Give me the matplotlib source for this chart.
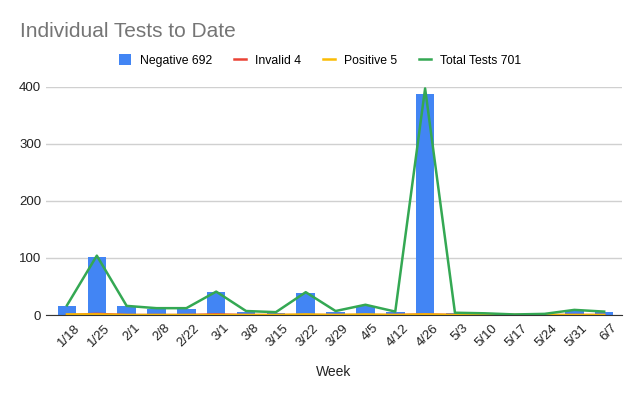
import matplotlib.pyplot as plt
import matplotlib.transforms as mtransforms
import numpy as np

plt.rcParams['font.family'] = ['Liberation Sans', 'DejaVu Sans']

# Data
weeks = ['1/18', '1/25', '2/1', '2/8', '2/22', '3/1', '3/8', '3/15', '3/22', '3/29',
         '4/5', '4/12', '4/26', '5/3', '5/10', '5/17', '5/24', '5/31', '6/7']
negative = [16, 102, 16, 11, 11, 40, 6, 4, 38, 6, 16, 6, 388, 3, 2, 1, 1, 8, 6]
invalid = [0, 2, 0, 0, 0, 1, 0, 0, 0, 0, 0, 0, 1, 0, 0, 0, 0, 0, 0]
positive = [1, 1, 0, 0, 0, 0, 0, 0, 1, 0, 1, 0, 1, 0, 0, 0, 0, 0, 0]
total = [17, 104, 16, 12, 12, 41, 7, 5, 40, 7, 18, 6, 397, 4, 3, 1, 2, 9, 6]

blue = '#4285F4'
red = '#EA4335'
yellow = '#FBBC04'
green = '#34A853'

fig = plt.figure(figsize=(6.4, 3.96), dpi=100)
ax = fig.add_axes([0.072, 0.2045, 0.9, 0.5765])

x = np.arange(len(weeks))
ax.bar(x, negative, width=0.62, color=blue, label='Negative 692', zorder=2)
ax.plot(x, invalid, color=red, lw=1.8, label='Invalid 4', zorder=3)
ax.plot(x, positive, color=yellow, lw=1.8, label='Positive 5', zorder=3)
ax.plot(x, total, color=green, lw=1.8, label='Total Tests 701', zorder=4, clip_on=False)

ax.set_xlim(-0.7, len(weeks) - 0.4)
ax.set_ylim(0, 400)
ax.set_yticks([0, 100, 200, 300, 400])
ax.grid(axis='y', color='#d0d0d0', lw=1, zorder=0)
ax.set_axisbelow(True)
for s in ['top', 'right', 'left']:
    ax.spines[s].set_visible(False)
ax.spines['bottom'].set_color('#333333')
ax.spines['bottom'].set_zorder(5)
ax.tick_params(length=0, labelsize=9.5, colors='#222222')
ax.tick_params(axis='x', pad=5)
ax.set_xticks(x)
ax.set_xticklabels(weeks, rotation=45, ha='right', rotation_mode='anchor')
# nudge the rotated labels so their ends sit just right of each bar
shift = mtransforms.ScaledTranslation(7 / 100, 0, fig.dpi_scale_trans)
for lab in ax.get_xticklabels():
    lab.set_transform(lab.get_transform() + shift)
ax.set_xlabel('Week', fontsize=10, color='#222222', labelpad=12)

fig.text(0.031, 0.907, 'Individual Tests to Date', fontsize=15, color='#757575')

handles, labels = ax.get_legend_handles_labels()
order = [3, 0, 1, 2]
fig.legend([handles[i] for i in order], [labels[i] for i in order],
           loc='center', bbox_to_anchor=(0.5, 0.848), ncol=4, frameon=False,
           fontsize=8.8, handlelength=1.0, handleheight=1.0, columnspacing=1.8,
           handletextpad=0.7)

fig.savefig('out.png', dpi=100)
